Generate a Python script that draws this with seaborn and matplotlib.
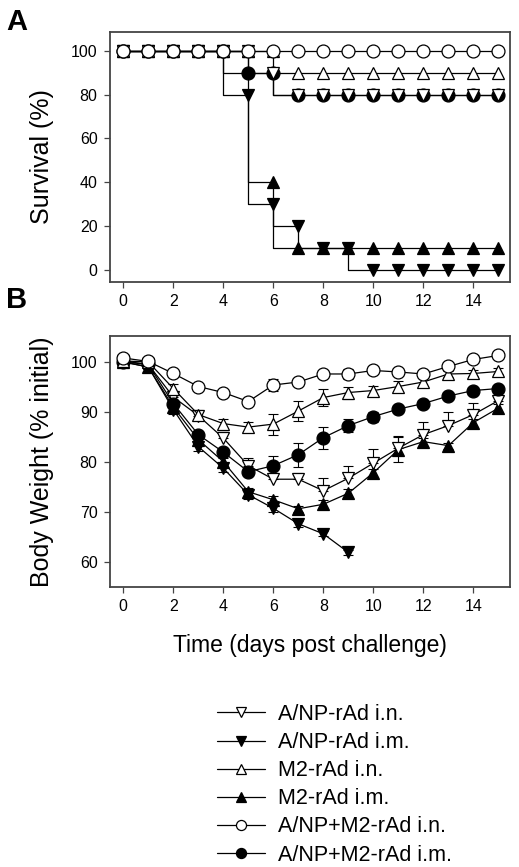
import pandas as pd
import matplotlib
matplotlib.use("Agg")
import matplotlib.pyplot as plt
from matplotlib.lines import Line2D
import seaborn as sns

# --- data -------------------------------------------------------------
days = list(range(16))
days_anp_im = list(range(10))   # A/NP-rAd i.m. group died out after day 9

groups = ["A/NP-rAd i.n.", "A/NP-rAd i.m.", "M2-rAd i.n.",
          "M2-rAd i.m.", "A/NP+M2-rAd i.n.", "A/NP+M2-rAd i.m."]

# survival (%), value shown at each day
surv_anp_in = [100, 100, 100, 100, 100, 100, 90, 80, 80, 80, 80, 80, 80, 80, 80, 80]
surv_anp_im = [100, 100, 100, 100, 100, 80, 30, 20, 10, 10, 0, 0, 0, 0, 0, 0]
surv_m2_in = [100, 100, 100, 100, 100, 100, 100, 90, 90, 90, 90, 90, 90, 90, 90, 90]
surv_m2_im = [100, 100, 100, 100, 100, 100, 40, 10, 10, 10, 10, 10, 10, 10, 10, 10]
surv_combo_in = [100] * 16
surv_combo_im = [100, 100, 100, 100, 100, 90, 90, 80, 80, 80, 80, 80, 80, 80, 80, 80]

# body weight (% initial) and error
bw_anp_in = [100.2, 99.5, 93.0, 89.3, 84.8, 79.3, 76.6, 76.6, 74.3, 76.8, 79.8, 82.8, 85.5, 87.3, 89.5, 92.3]
err_anp_in = [0.3, 0.5, 1.0, 1.0, 1.2, 1.5, 1.3, 1.3, 2.5, 2.5, 2.8, 2.5, 2.6, 2.8, 2.3, 1.0]
bw_anp_im = [100.0, 99.0, 90.5, 83.1, 78.8, 73.5, 70.8, 67.7, 65.7, 62.0]
err_anp_im = [0.3, 0.5, 0.8, 0.8, 0.8, 0.8, 0.8, 0.6, 0.5, 0.5]
bw_m2_in = [100.2, 100.0, 94.7, 89.5, 87.7, 87.0, 87.6, 90.2, 92.9, 93.9, 94.3, 95.1, 96.0, 97.6, 97.7, 98.1]
err_m2_in = [0.3, 0.8, 1.0, 1.0, 1.0, 1.0, 2.1, 2.0, 1.7, 1.2, 1.0, 1.0, 0.8, 0.6, 0.6, 0.6]
bw_m2_im = [100.0, 99.0, 91.0, 84.5, 80.1, 74.1, 72.5, 70.7, 71.6, 73.8, 77.9, 82.5, 84.1, 83.3, 87.9, 90.8]
err_m2_im = [0.3, 0.5, 0.8, 0.8, 0.8, 0.8, 0.8, 0.6, 0.8, 0.8, 0.8, 2.5, 0.8, 0.6, 0.8, 0.8]
bw_combo_in = [100.8, 100.1, 97.7, 95.1, 93.9, 92.1, 95.4, 96.0, 97.6, 97.6, 98.3, 98.0, 97.6, 99.1, 100.5, 101.3]
err_combo_in = [0.3, 0.5, 0.8, 0.5, 0.5, 0.5, 1.2, 0.8, 0.8, 1.0, 0.8, 0.6, 0.6, 0.6, 0.6, 0.5]
bw_combo_im = [100.0, 99.5, 91.7, 85.5, 82.0, 78.1, 79.3, 81.5, 84.9, 87.3, 89.1, 90.6, 91.7, 93.2, 94.3, 94.7]
err_combo_im = [0.3, 0.5, 0.8, 0.8, 0.8, 0.8, 2.0, 2.4, 2.2, 1.3, 1.0, 0.8, 0.6, 0.6, 0.6, 0.6]

x_ticks = [0, 2, 4, 6, 8, 10, 12, 14]
surv_ticks = [0, 20, 40, 60, 80, 100]
bw_ticks = [60, 70, 80, 90, 100]

# marker / fill / size per group
styles = {
    "A/NP-rAd i.n.": ("v", "white", 8.8),
    "A/NP-rAd i.m.": ("v", "black", 8.8),
    "M2-rAd i.n.": ("^", "white", 8.8),
    "M2-rAd i.m.": ("^", "black", 8.8),
    "A/NP+M2-rAd i.n.": ("o", "white", 9.3),
    "A/NP+M2-rAd i.m.": ("o", "black", 9.3),
}

surv = pd.DataFrame({"day": days,
                     "A/NP-rAd i.n.": surv_anp_in, "A/NP-rAd i.m.": surv_anp_im,
                     "M2-rAd i.n.": surv_m2_in, "M2-rAd i.m.": surv_m2_im,
                     "A/NP+M2-rAd i.n.": surv_combo_in, "A/NP+M2-rAd i.m.": surv_combo_im})

bw = {
    "A/NP-rAd i.n.": (days, bw_anp_in, [[0] * 16, err_anp_in]),
    "A/NP-rAd i.m.": (days_anp_im, bw_anp_im, [err_anp_im, err_anp_im]),
    "M2-rAd i.n.": (days, bw_m2_in, [err_m2_in, err_m2_in]),
    "M2-rAd i.m.": (days, bw_m2_im, [err_m2_im, err_m2_im]),
    "A/NP+M2-rAd i.n.": (days, bw_combo_in, [err_combo_in, err_combo_in]),
    "A/NP+M2-rAd i.m.": (days, bw_combo_im, [err_combo_im, err_combo_im]),
}

# --- style ------------------------------------------------------------
sns.set_style("ticks")
plt.rcParams["font.family"] = ["Liberation Sans", "DejaVu Sans"]
plt.rcParams["axes.edgecolor"] = "#444444"
plt.rcParams["axes.linewidth"] = 1.3
plt.rcParams["text.color"] = "black"
plt.rcParams["axes.labelcolor"] = "black"
plt.rcParams["xtick.labelcolor"] = "black"
plt.rcParams["ytick.labelcolor"] = "black"

fig = plt.figure(figsize=(5.19, 8.67), dpi=100)
axA = fig.add_axes([0.212, 0.675, 0.771, 0.288])
axB = fig.add_axes([0.212, 0.323, 0.771, 0.289])

# order so open symbols sit on top like in the original
surv_order = ["A/NP+M2-rAd i.m.", "M2-rAd i.m.", "A/NP-rAd i.m.",
              "M2-rAd i.n.", "A/NP-rAd i.n.", "A/NP+M2-rAd i.n."]

for g in surv_order:
    m, fc, ms = styles[g]
    sns.lineplot(data=surv, x="day", y=g, ax=axA, color="black", lw=0.9,
                 drawstyle="steps-pre", marker=m, markersize=ms,
                 markerfacecolor=fc, markeredgecolor="black", markeredgewidth=0.9)

bw_order = ["A/NP-rAd i.m.", "M2-rAd i.m.", "A/NP-rAd i.n.",
            "A/NP+M2-rAd i.m.", "M2-rAd i.n.", "A/NP+M2-rAd i.n."]
for g in bw_order:
    m, fc, ms = styles[g]
    x, y, err = bw[g]
    axB.errorbar(x, y, yerr=err, fmt="none", ecolor="black", elinewidth=0.8,
                 capsize=3.8, capthick=0.8, zorder=1)
    sns.lineplot(x=x, y=y, ax=axB, color="black", lw=0.9, marker=m,
                 markersize=ms, markerfacecolor=fc,
                 markeredgecolor="black", markeredgewidth=0.9, zorder=2)

for ax in (axA, axB):
    ax.set_xlim(-0.53, 15.47)
    ax.set_xticks(x_ticks)
    ax.tick_params(axis="both", labelsize=11.5, length=4, width=0.9,
                   pad=5, color="#444444")
    ax.set_xlabel("")

axA.set_ylim(-5.5, 108.5)
axA.set_yticks(surv_ticks)
axA.set_ylabel("Survival (%)", fontsize=18)

axB.set_ylim(55.1, 105.1)
axB.set_yticks(bw_ticks)
axB.set_ylabel("Body Weight (% initial)", fontsize=18)
axB.set_xlabel("Time (days post challenge)", fontsize=16.5, labelpad=14)

axA.yaxis.set_label_coords(-0.14, 0.5)
axB.yaxis.set_label_coords(-0.14, 0.5)

fig.text(0.012, 0.975, "A", fontsize=21, fontweight="bold", va="center")
fig.text(0.012, 0.654, "B", fontsize=21, fontweight="bold", va="center")

handles = []
for g in groups:
    m, fc, ms = styles[g]
    handles.append(Line2D([], [], color="black", lw=0.9, marker=m,
                          markersize=ms * 0.78, markerfacecolor=fc,
                          markeredgecolor="black", markeredgewidth=0.9))
fig.legend(handles, groups, loc="upper left", bbox_to_anchor=(0.418, 0.188),
           frameon=False, fontsize=15.5, handlelength=2.25, handletextpad=0.6,
           labelspacing=0.33, borderaxespad=0, borderpad=0)

fig.savefig("out.png", dpi=100)
